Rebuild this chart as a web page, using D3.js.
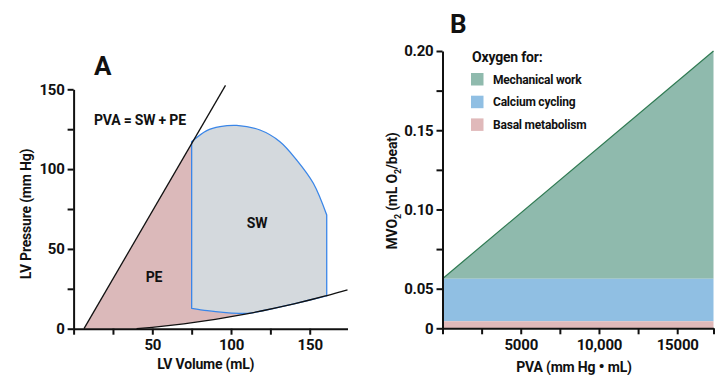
<!DOCTYPE html>
<html lang="en">
<head>
<meta charset="utf-8">
<title>PVA and MVO2</title>
<style>
  body { margin: 0; background: #fff; }
  text { font-family: Roboto, "Open Sans", sans-serif; font-weight: 700; fill: #111; letter-spacing: -0.2px; }
  .axis path, .axis line { stroke: #111; stroke-width: 2px; }
  .axis text { font-size: 15px; font-weight: 700; }
</style>
</head>
<body>
<svg width="722" height="375"></svg>
<script src="https://cdn.jsdelivr.net/npm/d3@7"></script>
<script>
// ---- panel A data (LV volume mL, LV pressure mm Hg) ----
var espvrPts = [[6.6, 0], [96.5, 152.5]];
var edpvrPts = [[40, 0], [50, 0.87], [60, 1.89], [70, 3.07], [80, 4.4], [90, 5.88], [100, 7.51],
                [110, 9.3], [120, 11.24], [130, 13.33], [140, 15.58], [150, 17.98], [160, 20.53],
                [170, 23.23], [174, 24.4]];
var loopTop = [[75, 117.2], [84.6, 124.1], [93, 126.6], [103.6, 127.4], [118.4, 124.5],
               [131.1, 117.2], [141.7, 105.7], [152.3, 91.1], [160.8, 71.2]];
var loopBottom = [[75, 12.8], [85, 11.3], [95, 10.2], [105, 9.6], [112, 9.7], [120, 11.24],
                  [130, 13.33], [140, 15.58], [150, 17.98], [160.8, 20.6]];
var volTicks = [0, 25, 50, 75, 100, 125, 150];
var volLabels = {50: "50", 100: "100", 150: "150"};
var presTicks = [0, 25, 50, 75, 100, 125, 150];
var presLabels = {0: "0", 50: "50", 100: "100", 150: "150"};

// ---- panel B data (PVA mm Hg*mL, MVO2 mL O2/beat) ----
var pva = [0, 17320];
var basal = [0.009, 0.009];
var calcium = [0.0563, 0.0563];
var mechanical = [0.0563, 0.2];
var legendLabels = ["Mechanical work", "Calcium cycling", "Basal metabolism"];
var legendColors = ["#8fbaad", "#90bfe3", "#e0b9ba"];
var pvaTicks = [0, 2500, 5000, 7500, 10000, 12500, 15000, 17320];
var pvaLabels = {5000: "5000", 10000: "10,000", 15000: "15000"};
var mvoTicks = [0, 0.05, 0.075, 0.1, 0.125, 0.15, 0.175, 0.2];
var mvoLabels = {0: "0", 0.05: "0.05", 0.1: "0.10", 0.15: "0.15", 0.2: "0.20"};

var svg = d3.select("svg");

// ================= panel A =================
var xA = d3.scaleLinear().domain([0, 174]).range([73.6, 347.5]);
var yA = d3.scaleLinear().domain([0, 150]).range([328.7, 89.3]);
var gA = svg.append("g");
var lineA = d3.line().x(function(d) { return xA(d[0]); }).y(function(d) { return yA(d[1]); });

// PE region: under ESPVR, left of the loop, above EDPVR
var peBottom = loopBottom.filter(function(p) { return p[0] <= 112; });
var edRev = edpvrPts.filter(function(p) { return p[0] <= 110; }).reverse();
var pePts = [espvrPts[0], [75, 116.0]].concat(peBottom, edRev, [espvrPts[0]]);
gA.append("path").attr("d", lineA(pePts)).attr("fill", "#dbb9ba");

// PV loop (SW)
var cr = d3.line().x(function(d) { return xA(d[0]); }).y(function(d) { return yA(d[1]); })
  .curve(d3.curveCatmullRom.alpha(0.5));
var loopPath = cr(loopTop) + cr(loopBottom.slice().reverse()).replace(/^M/, "L") + "Z";
gA.append("path").attr("d", loopPath)
  .attr("fill", "#d4d9dd").attr("stroke", "#3a86e8").attr("stroke-width", 1.3);

// ESPVR and EDPVR
gA.append("path").attr("d", lineA(espvrPts))
  .attr("fill", "none").attr("stroke", "#111").attr("stroke-width", 1.3);
gA.append("path").attr("d", d3.line().x(function(d) { return xA(d[0]); }).y(function(d) { return yA(d[1]); })
    .curve(d3.curveMonotoneX)(edpvrPts))
  .attr("fill", "none").attr("stroke", "#111").attr("stroke-width", 1.3);

// axes
gA.append("g").attr("class", "axis").attr("transform", "translate(0," + yA(0) + ")")
  .call(d3.axisBottom(xA).tickValues(volTicks).tickSize(6).tickSizeOuter(0).tickPadding(5)
    .tickFormat(function(d) { return volLabels[d] || ""; }));
gA.append("g").attr("class", "axis").attr("transform", "translate(" + xA(0) + ",0)")
  .call(d3.axisLeft(yA).tickValues(presTicks).tickSize(6).tickSizeOuter(0).tickPadding(3)
    .tickFormat(function(d) { return presLabels[d] || ""; }));

gA.append("text").attr("x", xA(84)).attr("y", 369).attr("text-anchor", "middle")
  .style("font-size", "14px").text("LV Volume (mL)");
gA.append("text").attr("transform", "translate(31,214) rotate(-90)").attr("text-anchor", "middle")
  .style("font-size", "14px").text("LV Pressure (mm Hg)");
gA.append("text").attr("x", 94).attr("y", 125).style("font-size", "14px").text("PVA = SW + PE");
gA.append("text").attr("x", 257).attr("y", 228).attr("text-anchor", "middle").style("font-size", "14px").text("SW");
gA.append("text").attr("x", 154).attr("y", 282).attr("text-anchor", "middle").style("font-size", "14px").text("PE");
gA.append("text").attr("x", 94).attr("y", 75).style("font-size", "26px").text("A");

// ================= panel B =================
var xB = d3.scaleLinear().domain([0, 17320]).range([442.5, 713.5]);
var yB = d3.scaleLinear().domain([0, 0.05, 0.2]).range([328.3, 288.7, 51]);
var gB = svg.append("g");

var rows = pva.map(function(v, i) {
  return { pva: v, basal: basal[i], calcium: calcium[i], total: mechanical[i] };
});
var area = d3.area().x(function(d) { return xB(d.pva); });
gB.append("path").datum(rows).attr("fill", legendColors[0])
  .attr("d", area.y0(function(d) { return yB(d.calcium); }).y1(function(d) { return yB(d.total); }));
gB.append("path").datum(rows).attr("fill", legendColors[1])
  .attr("d", area.y0(function(d) { return yB(d.basal); }).y1(function(d) { return yB(d.calcium); }));
gB.append("path").datum(rows).attr("fill", legendColors[2])
  .attr("d", area.y0(function() { return yB(0); }).y1(function(d) { return yB(d.basal); }));
gB.append("path").datum(rows).attr("fill", "none").attr("stroke", "#2f7a52").attr("stroke-width", 1.2)
  .attr("d", d3.line().x(function(d) { return xB(d.pva); }).y(function(d) { return yB(d.total); }));

gB.append("g").attr("class", "axis").attr("transform", "translate(0," + yB(0) + ")")
  .call(d3.axisBottom(xB).tickValues(pvaTicks).tickSize(6).tickSizeOuter(0).tickPadding(5)
    .tickFormat(function(d) { return pvaLabels[d] || ""; }));
gB.append("g").attr("class", "axis").attr("transform", "translate(" + xB(0) + ",0)")
  .call(d3.axisLeft(yB).tickValues(mvoTicks).tickSize(6).tickSizeOuter(0).tickPadding(3)
    .tickFormat(function(d) { return mvoLabels[d] || ""; }));

var xt = gB.append("text").attr("x", 574).attr("y", 372).attr("text-anchor", "middle")
  .style("font-size", "14px");
xt.append("tspan").text("PVA (mm Hg ");
xt.append("tspan").style("font-size", "17px").text("\u2022");
xt.append("tspan").text(" mL)");
var yt = gB.append("text").attr("transform", "translate(397,191) rotate(-90)").attr("text-anchor", "middle")
  .style("font-size", "14px");
yt.append("tspan").text("MVO");
yt.append("tspan").attr("dy", 4).style("font-size", "9px").text("2");
yt.append("tspan").attr("dy", -4).text(" (mL O");
yt.append("tspan").attr("dy", 4).style("font-size", "9px").text("2");
yt.append("tspan").attr("dy", -4).text("/beat)");
gB.append("text").attr("x", 450).attr("y", 33).style("font-size", "26px").text("B");

// legend
gB.append("text").attr("x", 472).attr("y", 62).style("font-size", "14px").text("Oxygen for:");
var leg = gB.selectAll(".leg").data(legendLabels).enter().append("g").attr("class", "leg")
  .attr("transform", function(d, i) { return "translate(471," + (73 + i * 22.7) + ")"; });
leg.append("rect").attr("width", 12.5).attr("height", 12.5)
  .attr("fill", function(d, i) { return legendColors[i]; });
leg.append("text").attr("x", 22).attr("y", 10.5).style("font-size", "12px").text(function(d) { return d; });
</script>
</body>
</html>
